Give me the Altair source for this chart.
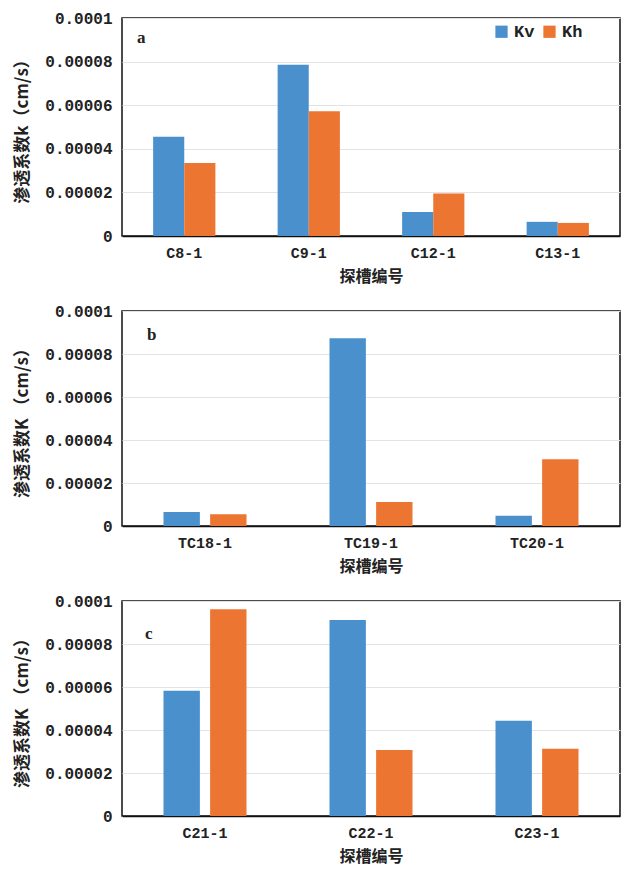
import altair as alt
import pandas as pd

# Panel a
a_sites = ["C8-1", "C9-1", "C12-1", "C13-1"]
a_kv = [0.0000455, 0.0000785, 0.000011, 0.0000065]
a_kh = [0.0000335, 0.0000572, 0.0000195, 0.000006]

# Panel b
b_sites = ["TC18-1", "TC19-1", "TC20-1"]
b_kv = [0.0000065, 0.0000873, 0.0000048]
b_kh = [0.0000055, 0.0000112, 0.000031]

# Panel c
c_sites = ["C21-1", "C22-1", "C23-1"]
c_kv = [0.0000582, 0.0000912, 0.0000443]
c_kh = [0.0000962, 0.0000307, 0.0000313]

series = ["Kv", "Kh"]
colors = ["#4A90CD", "#EC7532"]
y_ticks = [0, 0.00002, 0.00004, 0.00006, 0.00008, 0.0001]

MONO = "Liberation Mono"
CJK = "Noto Sans CJK SC"


def make_df(sites, kv, kh):
    rows = []
    for s, v, h in zip(sites, kv, kh):
        rows.append({"site": s, "series": "Kv", "k": v})
        rows.append({"site": s, "series": "Kh", "k": h})
    return pd.DataFrame(rows)


def panel(sites, kv, kh, letter, ytitle, width, height, off_pad,
          legend_x, legend_y, letter_xy):
    df = make_df(sites, kv, kh)
    bars = alt.Chart(df).mark_bar().encode(
        x=alt.X("site:N", sort=sites,
                scale=alt.Scale(paddingInner=0.5, paddingOuter=0.25),
                axis=alt.Axis(title="探槽编号", labelAngle=0, ticks=False,
                              labelFont=MONO, labelFontSize=15, labelColor="#222",
                              labelFontWeight="bold",
                              labelPadding=9, titleFont=CJK, titleFontSize=16,
                              titleFontWeight="bold", titlePadding=8,
                              titleColor="#222", domainColor="#111",
                              domainWidth=1.5)),
        xOffset=alt.XOffset("series:N", sort=series,
                            scale=alt.Scale(paddingInner=off_pad, paddingOuter=0)),
        y=alt.Y("k:Q", scale=alt.Scale(domain=[0, 0.0001], nice=False),
                axis=alt.Axis(title=ytitle, values=y_ticks, format=".5~f",
                              ticks=False, domain=False, labelFont=MONO,
                              labelFontSize=16, labelColor="#222",
                              labelFontWeight="bold",
                              labelPadding=10, titleFont=CJK,
                              titleFontSize=17, titleFontWeight="bold",
                              titleColor="#222", titlePadding=13,
                              gridColor="#e3e3e3")),
        color=alt.Color("series:N", sort=series,
                        scale=alt.Scale(domain=series, range=colors),
                        legend=alt.Legend(title=None, orient="none",
                                          legendX=legend_x, legendY=legend_y,
                                          direction="horizontal",
                                          symbolType="square", symbolSize=150,
                                          symbolStrokeWidth=0,
                                          labelFont=MONO, labelFontSize=17,
                                          labelFontWeight="bold",
                                          labelColor="#222", columnPadding=6)),
    )
    label = alt.Chart(pd.DataFrame({"t": [letter]})).mark_text(
        font="Liberation Serif", fontSize=17, fontWeight="bold", color="#222",
        align="left", baseline="middle"
    ).encode(text="t:N", x=alt.value(letter_xy[0]), y=alt.value(letter_xy[1]))
    return alt.layer(bars, label).properties(width=width, height=height)


pa = panel(a_sites, a_kv, a_kh, "a", "渗透系数k（cm/s）", 498, 218, 0.0,
           371, 5, (15, 20))
pb = panel(b_sites, b_kv, b_kh, "b", "渗透系数K （cm/s）", 498, 215, 0.22,
           387, 16, (25, 24))
pc = panel(c_sites, c_kv, c_kh, "c", "渗透系数K （cm/s）", 498, 215, 0.22,
           376, 22, (23, 33))

chart = alt.vconcat(pa, pb, pc, spacing=17).resolve_scale(
    xOffset="independent"
).properties(
    padding={"left": 5, "top": 1, "right": 5, "bottom": 5}
).configure_view(stroke="#111", strokeWidth=1.5)

chart.save("out.html", embed_options={"renderer": "svg", "actions": False})
